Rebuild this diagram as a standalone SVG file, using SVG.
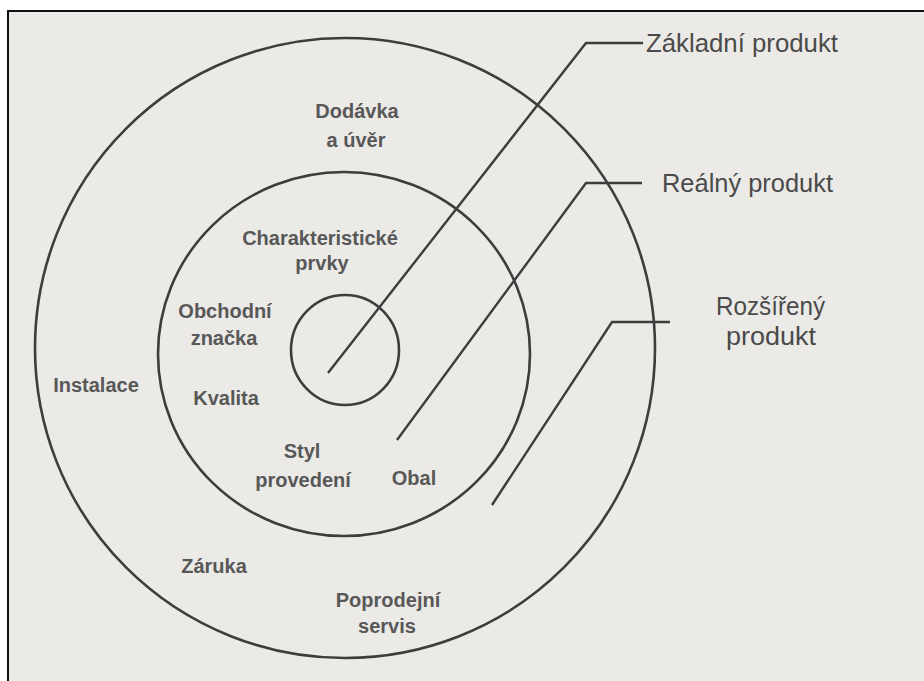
<svg xmlns="http://www.w3.org/2000/svg" width="924" height="681" viewBox="0 0 924 681">
  <style>
    .ring { fill: none; stroke: #3d3d3d; stroke-width: 2.6; }
    .lead { fill: none; stroke: #3d3d3d; stroke-width: 2.4; stroke-linejoin: miter; }
    .lbl { font-family: "Liberation Sans", Arial, sans-serif; font-weight: bold; font-size: 20px; fill: #585858; text-anchor: middle; }
    .out { font-family: "Liberation Sans", Arial, sans-serif; font-size: 25px; fill: #4a4a4a; }
  </style>
  <rect x="0" y="0" width="924" height="681" fill="#ffffff"/>
  <rect x="8" y="11" width="916" height="670" fill="#ebeae7"/>
  <path d="M8 681 V11 H924" fill="none" stroke="#111111" stroke-width="2"/>

  <g id="rozsireny-produkt">
    <circle class="ring" cx="345" cy="348" r="310"/>
    <text class="lbl" x="357" y="118">Dodávka</text>
    <text class="lbl" x="356" y="147">a úvěr</text>
    <text class="lbl" x="96" y="392">Instalace</text>
    <text class="lbl" x="214" y="573">Záruka</text>
    <text class="lbl" x="388" y="607">Poprodejní</text>
    <text class="lbl" x="387" y="633">servis</text>
  </g>

  <g id="realny-produkt">
    <ellipse class="ring" cx="344" cy="354" rx="186" ry="182"/>
    <text class="lbl" x="320" y="245">Charakteristické</text>
    <text class="lbl" x="322" y="270">prvky</text>
    <text class="lbl" x="225" y="318">Obchodní</text>
    <text class="lbl" x="224" y="345">značka</text>
    <text class="lbl" x="226" y="405">Kvalita</text>
    <text class="lbl" x="302" y="458">Styl</text>
    <text class="lbl" x="303" y="487">provedení</text>
    <text class="lbl" x="414" y="485">Obal</text>
  </g>

  <g id="zakladni-produkt">
    <ellipse class="ring" cx="345" cy="350" rx="54" ry="55"/>
  </g>

  <g id="connectors">
    <polyline class="lead" points="328,373 586,43 643,43"/>
    <polyline class="lead" points="397,440 586,183 642,183"/>
    <polyline class="lead" points="492,505 612,322 670,322"/>
  </g>

  <g id="labels">
    <text class="out" x="646" y="52" textLength="192" lengthAdjust="spacingAndGlyphs">Základní produkt</text>
    <text class="out" x="662" y="192" textLength="171" lengthAdjust="spacingAndGlyphs">Reálný produkt</text>
    <text class="out" x="716" y="315" textLength="109" lengthAdjust="spacingAndGlyphs">Rozšířený</text>
    <text class="out" x="726" y="345" textLength="90" lengthAdjust="spacingAndGlyphs">produkt</text>
  </g>
</svg>
